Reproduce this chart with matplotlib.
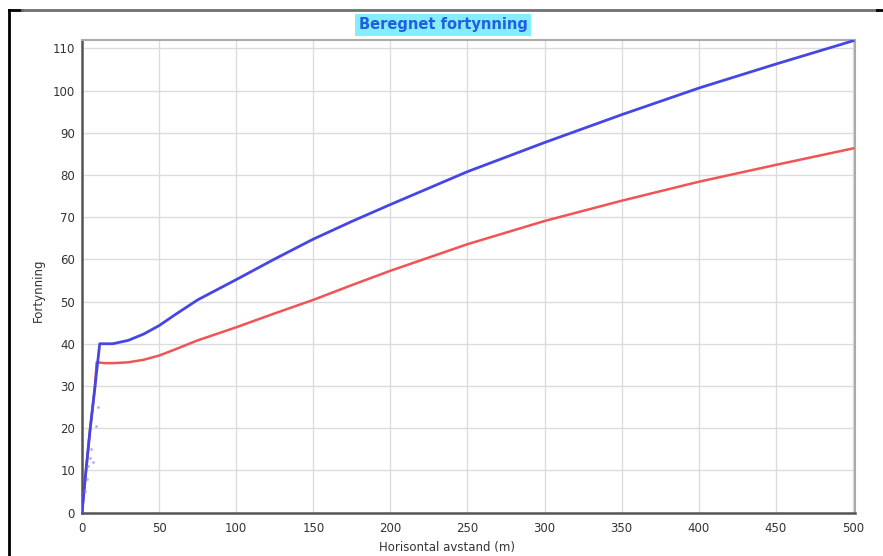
""" Beregnet fortynning - blue/red dilution curves vs horizontal distance.
"""
import matplotlib
matplotlib.use("Agg")
import matplotlib.pyplot as plt
from matplotlib.lines import Line2D

# * Data
blue_x = [0, 2.6, 5.2, 8.4, 11.5, 15, 20, 30, 40, 50, 60, 75, 100, 125, 150,
          175, 200, 250, 300, 350, 400, 450, 500]
blue_y = [0, 10, 19.5, 29.8, 40, 40, 40, 40.8, 42.3, 44.3, 46.8, 50.4, 55.2,
          60.1, 64.8, 69.0, 73.0, 80.8, 87.7, 94.3, 100.6, 106.3, 111.8]

red_x = [0, 2.6, 5.2, 8.4, 9.5, 15, 20, 30, 40, 50, 60, 75, 100, 125, 150,
         175, 200, 250, 300, 350, 400, 450, 500]
red_y = [0, 10, 19.5, 29.8, 35.6, 35.4, 35.4, 35.6, 36.2, 37.2, 38.6, 40.8,
         43.9, 47.2, 50.4, 53.9, 57.3, 63.6, 69.1, 73.9, 78.4, 82.4, 86.3]

dots_x = [2, 3, 4, 5, 6, 7, 9, 10.4]
dots_y = [5, 8, 11, 13, 15, 12, 20.5, 25]

x_ticks = list(range(0, 501, 50))
y_ticks = list(range(0, 111, 10))

TITLE = "Beregnet fortynning"
X_LABEL = "Horisontal avstand (m)"
Y_LABEL = "Fortynning"


if __name__ == "__main__":

    W, H = 883, 556
    fig = plt.figure(figsize=(W / 100, H / 100), dpi=100)
    fig.patch.set_facecolor("white")

    # axes box in pixels: left 82, right 855, top 40, bottom 512.5
    ax = fig.add_axes([82 / W, 1 - 512.5 / H, (855 - 82) / W, (512.5 - 40) / H])

    ax.plot(red_x, red_y, color="#f05454", lw=1.8, zorder=3)
    ax.plot(blue_x, blue_y, color="#4646e6", lw=2.0, zorder=4)
    ax.scatter(dots_x, dots_y, s=4, color="#8c8cff", alpha=0.7, zorder=5,
               linewidths=0)

    ax.set_xlim(0, 501.3)
    ax.set_ylim(0, 112)
    ax.set_xticks(x_ticks)
    ax.set_yticks(y_ticks)
    ax.grid(True, color="#dcdcdc", lw=1.0)
    ax.set_axisbelow(True)
    ax.tick_params(length=0, labelsize=8.5, labelcolor="#333333")
    ax.tick_params(axis="x", pad=7)
    ax.tick_params(axis="y", pad=5)

    ax.spines["left"].set_color("#555555")
    ax.spines["bottom"].set_color("#555555")
    ax.spines["left"].set_linewidth(1.8)
    ax.spines["bottom"].set_linewidth(1.8)
    ax.spines["top"].set_color("#aaaaaa")
    ax.spines["right"].set_color("#aaaaaa")
    ax.spines["top"].set_linewidth(1.5)
    ax.spines["right"].set_linewidth(1.5)

    # title with cyan box, labels centred like the original
    fig.text(443 / W, 1 - 25 / H, TITLE, ha="center", va="center",
             fontsize=10.5, fontweight="bold", color="#1f5fe0",
             bbox=dict(boxstyle="square,pad=0.25", fc="#86ecff", ec="none"))
    fig.text(447 / W, 1 - 548 / H, X_LABEL, ha="center", va="center",
             fontsize=8.5, color="#333333")
    fig.text(38 / W, 1 - 290 / H, Y_LABEL, ha="center", va="center",
             rotation=90, fontsize=8.5, color="#333333")

    # screenshot frame
    fig.add_artist(Line2D([9 / W, 9 / W], [0, 1 - 10 / H], color="black", lw=2))
    fig.add_artist(Line2D([9 / W, 22 / W], [1 - 10 / H, 1 - 10 / H],
                          color="black", lw=2))
    fig.add_artist(Line2D([22 / W, 877 / W], [1 - 10 / H, 1 - 10 / H],
                          color="#707070", lw=2))
    fig.add_artist(Line2D([877 / W, 883 / W], [1 - 10 / H, 1 - 10 / H],
                          color="black", lw=2))

    plt.savefig("out.png", dpi=100)
    plt.close()
